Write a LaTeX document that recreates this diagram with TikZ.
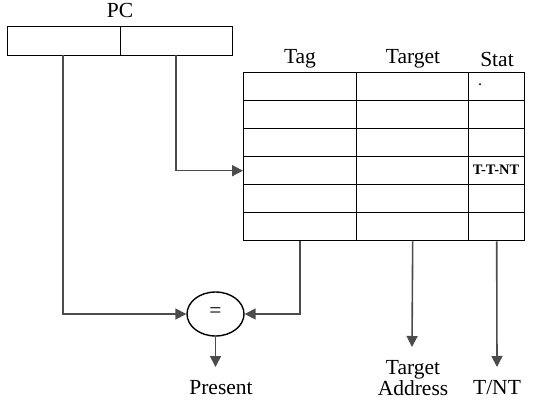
\documentclass[tikz,border=0pt]{standalone}
\usepackage{fontspec}
\setmainfont{Liberation Serif}
\usetikzlibrary{arrows.meta,shapes.geometric}
\begin{document}
\begin{tikzpicture}[x=1pt,y=-1pt,
  box/.style={draw=black,line width=1.4pt,minimum height=28pt,inner sep=0pt,anchor=north west},
  conn/.style={draw=black!70,line width=1.6pt},
  arr/.style={conn,-{Triangle[length=11pt,width=11pt]}},
  lbl/.style={font=\fontsize{21.5}{22}\selectfont,inner sep=0pt},
  small/.style={font=\bfseries\fontsize{14.5}{15}\selectfont,inner sep=0pt}]
\useasboundingbox (0,0) rectangle (533,401);
% PC register
\node[box,minimum width=113pt,minimum height=29pt] (pcL) at (7,26) {};
\node[box,minimum width=112pt,minimum height=29pt] (pcR) at (120,26) {};
\node[lbl] (pc) at (120,10) {PC};
% table
\foreach \r/\y in {1/72,2/100,3/128,4/156,5/184,6/212}{
  \node[box,minimum width=113pt] (tag\r) at (243,\y) {};
  \node[box,minimum width=112pt] (tgt\r) at (356,\y) {};
  \node[box,minimum width=56pt] (st\r) at (468,\y) {};
}
\node[lbl] (htag) at (300,59) {Tag};
\node[lbl] (htgt) at (413,59) {Target};
\node[lbl] (hst) at (497,59) {Stat};
\node[lbl,font=\fontsize{16}{16}\selectfont] (dot) at (480,85) {.};
\node[small] (ttnt) at (496,170) {T-T-NT};
% comparator
\node[ellipse,draw=black,line width=1.4pt,minimum width=57pt,minimum height=44pt,inner sep=0pt] (eq) at (215.5,314) {};
\node[lbl] (eqs) at (215.5,313) {=};
% outputs
\node[lbl] (present) at (221,388) {Present};
\node[lbl,align=center,font=\fontsize{21.5}{17}\selectfont] (taddr) at (413,378) {Target\\Address};
\node[lbl] (tnt) at (497,388) {T/NT};
\coordinate (pL) at (63,55);
\coordinate (pR) at (176,55);
% connectors
\draw[arr] (pL) |- (eq.west);
\draw[arr] (pR) |- (tag4.west);
\draw[arr] (tag6.south) |- (eq.east);
\draw[arr] (eq.south) -- (215.5,367);
\draw[arr] (tgt6.south) -- (412,347);
\draw[arr] (st6.south) -- (497,367);
\end{tikzpicture}
\end{document}
